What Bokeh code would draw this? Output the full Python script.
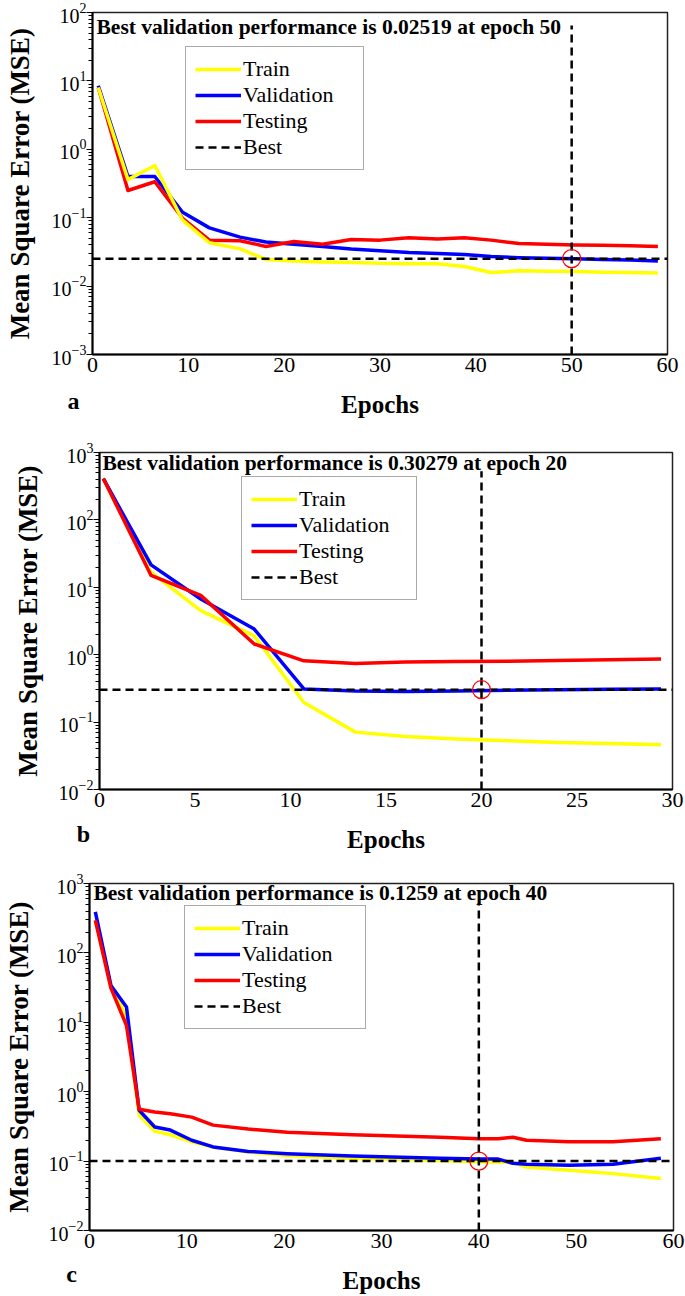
import math
from bokeh.plotting import figure
from bokeh.models import (Legend, LegendItem, Label, LogTicker,
                          SingleIntervalTicker, Range1d)
from bokeh.embed import file_html
from bokeh.resources import INLINE

# ---------------- data ----------------
# panel a
a_epochs = [0.6, 3.7, 6.5, 9.4, 12.2, 15.4, 18.1, 21.0, 24.0, 27.0, 30.0,
            33.0, 36.0, 38.8, 41.6, 44.5, 47.4, 50.3, 53.2, 56.1, 59.0]
a_train = [8.0, 0.36, 0.58, 0.092, 0.043, 0.035, 0.0245, 0.0232, 0.0225, 0.0222, 0.0215,
           0.0213, 0.0212, 0.0193, 0.0158, 0.0167, 0.0165, 0.0163, 0.0160, 0.0158, 0.0156]
a_val = [8.5, 0.40, 0.40, 0.12, 0.071, 0.052, 0.044, 0.041, 0.038, 0.035, 0.033,
         0.031, 0.030, 0.029, 0.027, 0.026, 0.0255, 0.0252, 0.0245, 0.024, 0.0232]
a_test = [8.0, 0.25, 0.335, 0.098, 0.047, 0.046, 0.038, 0.045, 0.041, 0.048, 0.047,
          0.051, 0.049, 0.051, 0.047, 0.042, 0.041, 0.040, 0.0395, 0.039, 0.038]
a_best_epoch = 50
a_best_perf = 0.02519
a_title = "Best validation performance is 0.02519 at epoch 50"

# panel b
b_epochs = [0.2, 2.7, 5.3, 8.1, 10.7, 13.4, 16.0, 18.7, 21.4, 24.0, 26.7, 29.4]
b_train = [410, 16.7, 4.5, 1.9, 0.195, 0.071, 0.061, 0.056, 0.053, 0.050, 0.048, 0.046]
b_val = [410, 21.5, 6.7, 2.4, 0.31, 0.29, 0.285, 0.29, 0.298, 0.303, 0.306, 0.31]
b_test = [410, 15.0, 7.6, 1.44, 0.81, 0.74, 0.78, 0.79, 0.80, 0.82, 0.84, 0.86]
b_best_epoch = 20
b_best_perf = 0.30279
b_title = "Best validation performance is 0.30279 at epoch 20"

# panel c
c_epochs = [0.6, 2.2, 3.8, 5.1, 6.7, 8.3, 10.5, 12.7, 16.3, 20.3, 27.0, 36.0,
            40.0, 42.0, 43.5, 44.9, 49.3, 53.8, 58.7]
c_train = [300, 34, 12, 0.46, 0.27, 0.24, 0.19, 0.16, 0.135, 0.12, 0.11, 0.102,
           0.098, 0.097, 0.095, 0.082, 0.074, 0.066, 0.056]
c_val = [390, 34, 16.6, 0.54, 0.31, 0.28, 0.20, 0.16, 0.138, 0.128, 0.118, 0.11,
         0.107, 0.107, 0.093, 0.09, 0.087, 0.09, 0.11]
c_test = [295, 31, 9.0, 0.56, 0.51, 0.48, 0.43, 0.33, 0.29, 0.26, 0.24, 0.22,
          0.21, 0.21, 0.22, 0.20, 0.19, 0.19, 0.21]
c_best_epoch = 40
c_best_line = 0.1          # where the dashed line sits in the picture
c_title = "Best validation performance is 0.1259 at epoch 40"

legend_labels = ["Train", "Validation", "Testing", "Best"]
x_label = "Epochs"
y_label = "Mean Square Error (MSE)"

SERIF = "Liberation Serif"
COLORS = {"train": "#FFFF00", "val": "#0000FF", "test": "#FF0000"}


def panel(letter, title, epochs, series, best_epoch, best_perf, x_max, x_step,
          y_min, y_max, height, borders, ylab_standoff, legend_loc, legend_lw,
          title_px, letter_px, vtop_dec, order):
    left, right, top, bottom = borders
    W = 685
    frame_w = W - left - right
    frame_h = height - top - bottom
    p = figure(width=W, height=height,
               x_range=Range1d(0, x_max), y_range=Range1d(y_min, y_max),
               y_axis_type="log", output_backend="svg", toolbar_location=None,
               min_border_left=left, min_border_right=right,
               min_border_top=top, min_border_bottom=bottom)
    p.background_fill_color = "white"
    p.border_fill_color = "white"
    p.outline_line_color = "#222222"
    p.outline_line_width = 1.5
    p.grid.visible = False

    # x axis
    xa = p.xaxis[0]
    xa.ticker = SingleIntervalTicker(interval=x_step, num_minor_ticks=0)
    xa.axis_label = x_label
    xa.axis_label_text_font = SERIF
    xa.axis_label_text_font_style = "bold"
    xa.axis_label_text_font_size = "25px"
    xa.axis_label_text_color = "black"
    xa.axis_label_standoff = 16
    xa.major_label_text_font = SERIF
    xa.major_label_text_font_size = "22px"
    xa.major_label_text_color = "black"
    xa.major_label_standoff = 3
    xa.major_tick_out = 0
    xa.major_tick_in = 0
    xa.minor_tick_out = 0
    xa.axis_line_width = 2
    xa.axis_line_color = "black"

    # y axis
    ya = p.yaxis[0]
    ya.ticker = LogTicker(mantissas=[1], desired_num_ticks=6, num_minor_ticks=10)
    ya.axis_label = y_label
    ya.axis_label_text_font = SERIF
    ya.axis_label_text_font_style = "bold"
    ya.axis_label_text_font_size = "27px"
    ya.axis_label_text_color = "black"
    ya.axis_label_standoff = ylab_standoff
    ya.major_label_text_font = SERIF
    ya.major_label_text_font_size = "20px"
    ya.major_label_text_color = "black"
    ya.major_label_standoff = 0
    ya.major_tick_out = 6
    ya.major_tick_in = 0
    ya.minor_tick_out = 4
    ya.minor_tick_in = 0
    ya.axis_line_width = 2
    ya.axis_line_color = "black"

    rends = {}
    for key in order:
        rends[key] = p.line(epochs, series[key], line_color=COLORS[key],
                            line_width=3.5, line_join="round")

    r_h = p.line([0, x_max], [best_perf, best_perf], line_color="black",
                 line_width=2.5, line_dash="8 5")
    v_top = 10 ** (math.log10(y_max) - vtop_dec)
    p.line([best_epoch, best_epoch], [y_min, v_top], line_color="black",
           line_width=2.5, line_dash="8 5")
    p.scatter([best_epoch], [best_perf], marker="circle", size=18,
              fill_color=None, line_color="red", line_width=1.2)

    legend = Legend(items=[
        LegendItem(label=legend_labels[0], renderers=[rends["train"]]),
        LegendItem(label=legend_labels[1], renderers=[rends["val"]]),
        LegendItem(label=legend_labels[2], renderers=[rends["test"]]),
        LegendItem(label=legend_labels[3], renderers=[r_h]),
    ], location=legend_loc)
    legend.border_line_color = "#555555"
    legend.border_line_width = 1
    legend.background_fill_color = "white"
    legend.background_fill_alpha = 1
    legend.label_text_font = SERIF
    legend.label_text_font_size = "22px"
    legend.label_text_color = "black"
    legend.glyph_width = 46
    legend.glyph_height = 26
    legend.label_height = 26
    legend.label_width = legend_lw
    legend.spacing = 0
    legend.padding = 9
    legend.margin = 0
    legend.label_standoff = 2
    p.add_layout(legend)

    decades = math.log10(y_max) - math.log10(y_min)
    # title text near the top-left corner of the frame (through the plot's scales)
    tx = title_px[0] * x_max / frame_w
    ty = 10 ** (math.log10(y_max) - title_px[1] * decades / frame_h)
    p.add_layout(Label(x=tx, y=ty, text=title, text_font=SERIF,
                       text_font_style="bold", text_font_size="21.5px",
                       text_color="black",
                       text_baseline="middle", text_align="left"))

    # panel letter, below-left of the frame (through the plot's scales)
    lx = 0 - letter_px[0] * x_max / frame_w
    ly = 10 ** (math.log10(y_min) - letter_px[1] * decades / frame_h)
    p.add_layout(Label(x=lx, y=ly, text=letter, text_font=SERIF,
                       text_font_style="bold", text_font_size="24px",
                       text_color="black",
                       text_baseline="middle", text_align="center"), "right")
    return p


pa = panel("a", a_title, a_epochs, {"train": a_train, "val": a_val, "test": a_test},
           a_best_epoch, a_best_perf, 60, 10, 1e-3, 1e2, 430,
           (92, 18, 12, 76), 14, (93, 184), 111, (4, 14), (19, 46), 0.19,
           ["val", "test", "train"])
pb = panel("b", b_title, b_epochs, {"train": b_train, "val": b_val, "test": b_test},
           b_best_epoch, b_best_perf, 30, 5, 1e-2, 1e3, 439,
           (99, 13, 22, 80), 13, (142, 189), 108, (3, 10), (16, 44), 0.28,
           ["train", "val", "test"])
pc = panel("c", c_title, c_epochs, {"train": c_train, "val": c_val, "test": c_test},
           c_best_epoch, c_best_line, 60, 10, 1e-2, 1e3, 427,
           (85, 12, 14, 65), 12, (95, 201), 114, (4, 10), (18, 44), 0.28,
           ["train", "val", "test"])

# three separate roots, stacked on the page (no frame alignment between them)
open("out.html", "w").write(file_html([pa, pb, pc], INLINE))
